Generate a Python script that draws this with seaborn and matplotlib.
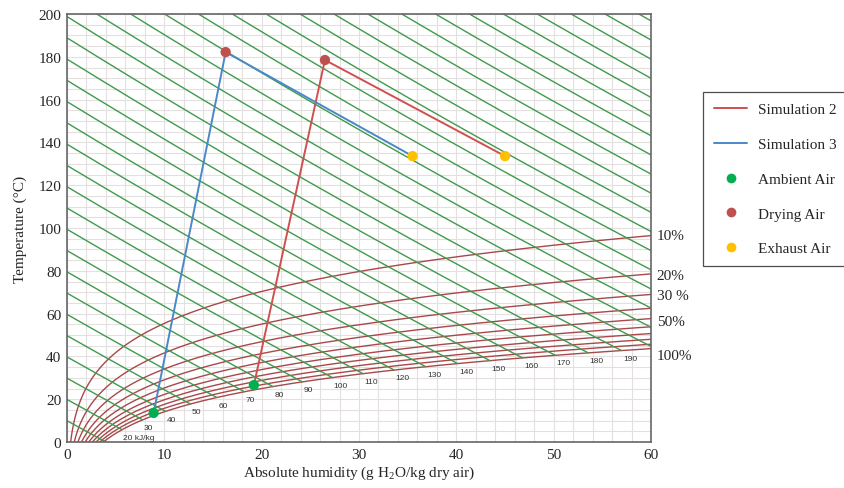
import numpy as np
import matplotlib
matplotlib.use('Agg')
import matplotlib.pyplot as plt
from matplotlib.lines import Line2D
import seaborn as sns
import pandas as pd

# process states: absolute humidity (g/kg) and temperature (C)
states = ['Ambient Air', 'Drying Air', 'Exhaust Air']
state_colors = ['#00b050', '#c0504d', '#ffc000']
sim2_x = [19.2, 26.5, 45.0]
sim2_t = [26.6, 178.5, 133.6]
sim3_x = [8.9, 16.3, 35.5]
sim3_t = [13.6, 182.2, 133.6]

# chart background levels
rh_levels = [10, 20, 30, 40, 50, 60, 70, 80, 90, 100]      # %
enthalpy_levels = list(range(10, 380, 10))                 # kJ/kg
enthalpy_labels = list(range(20, 200, 10))
rh_tags = ['10%', '20%', '30 %', '50%', '100%']
rh_tag_t = [96.5, 78.0, 68.5, 56.5, 40.5]

P = 101.325  # kPa


def pws(t):
    # Antoine equation, kPa
    return 0.133322 * 10 ** (8.07131 - 1730.63 / (233.426 + t))


def x_of(t, phi):
    pv = phi * pws(t)
    return 622.0 * pv / (P - pv)


sns.set_theme(style='white')
plt.rcParams['font.family'] = ['Liberation Serif', 'DejaVu Serif']
plt.rcParams['mathtext.fontset'] = 'custom'
plt.rcParams['mathtext.rm'] = 'Liberation Serif'

fig = plt.figure(figsize=(8.44, 4.89), dpi=100)
ax = fig.add_axes([67 / 844, 1 - 443 / 489, (651 - 67) / 844, (443 - 15) / 489])

# grid
ax.set_xticks(np.arange(0, 61, 2), minor=True)
ax.set_yticks(np.arange(0, 201, 5), minor=True)
ax.grid(which='both', color='#e4e0e0', linewidth=0.8)
ax.set_axisbelow(True)

# relative humidity curves
for rh in rh_levels:
    phi = rh / 100
    tt = np.linspace(0, 110, 800)
    pv = phi * pws(tt)
    ok = pv < 0.9 * P
    xx = x_of(tt[ok], phi)
    keep = xx <= 62
    ax.plot(xx[keep], tt[ok][keep], color='#a8484a', lw=1.0, zorder=2)

# saturation line for enthalpy ends
ts = np.linspace(0, 80, 4000)
xs = x_of(ts, 1.0)
hs = 1.006 * ts + xs * (2.501 + 0.00186 * ts)

for h in enthalpy_levels:
    x_end = min(np.interp(h, hs, xs), 60.0)
    xl = np.linspace(0, x_end, 200)
    tl = (h - 2.501 * xl) / (1.006 + 0.00186 * xl)
    ax.plot(xl, tl, color='#3f9a4c', lw=1.0, zorder=2)
    if h in enthalpy_labels:
        t_end = np.interp(h, hs, ts)
        txt = '20 kJ/kg' if h == 20 else str(h)
        ax.annotate(txt, (x_end, t_end), xytext=(1, -3), textcoords='offset points',
                    ha='left', va='top', fontsize=6, color='#333333',
                    family=['Liberation Sans', 'DejaVu Sans'])

# process lines
sim2 = pd.DataFrame({'x': sim2_x, 't': sim2_t})
sim3 = pd.DataFrame({'x': sim3_x, 't': sim3_t})
sns.lineplot(data=sim2, x='x', y='t', sort=False, color='#d0504f', lw=1.4, ax=ax, zorder=4)
sns.lineplot(data=sim3, x='x', y='t', sort=False, color='#4a88c7', lw=1.4, ax=ax, zorder=4)

pts = pd.DataFrame({'x': sim2_x + sim3_x, 't': sim2_t + sim3_t, 'state': states + states})
sns.scatterplot(data=pts, x='x', y='t', hue='state', palette=dict(zip(states, state_colors)),
                s=55, edgecolor='none', legend=False, ax=ax, zorder=5)

ax.set_xlim(0, 60)
ax.set_ylim(0, 200)
ax.set_xticks(range(0, 61, 10))
ax.set_yticks(range(0, 201, 20))
ax.tick_params(which='both', direction='in', length=3, width=0.8, color='#666666',
               labelsize=11, pad=4)
ax.tick_params(which='minor', length=2)
for s in ax.spines.values():
    s.set_color('#666666')
    s.set_linewidth(1.2)

ax.set_xlabel('Absolute humidity (g H$_\\mathregular{2}$O/kg dry air)', fontsize=11, labelpad=2)
ax.set_ylabel('Temperature (°C)', fontsize=11, labelpad=8)

for tag, t in zip(rh_tags, rh_tag_t):
    ax.text(60.6, t, tag, fontsize=11, va='center', ha='left', clip_on=False)

handles = [
    Line2D([], [], color='#d0504f', lw=1.4),
    Line2D([], [], color='#4a88c7', lw=1.4),
] + [Line2D([], [], ls='none', marker='o', markersize=7, markerfacecolor=c, markeredgecolor='none')
     for c in state_colors]
labels = ['Simulation 2', 'Simulation 3'] + states
leg = fig.legend(handles, labels, loc='upper left', bbox_to_anchor=(703 / 844, 1 - 93 / 489),
                 frameon=True, fancybox=False, edgecolor='#222222', fontsize=11,
                 labelspacing=1.38, handlelength=2.2, handletextpad=0.7,
                 borderpad=0.7, borderaxespad=0)
leg.get_frame().set_linewidth(0.9)

fig.savefig('out.png', dpi=100)
